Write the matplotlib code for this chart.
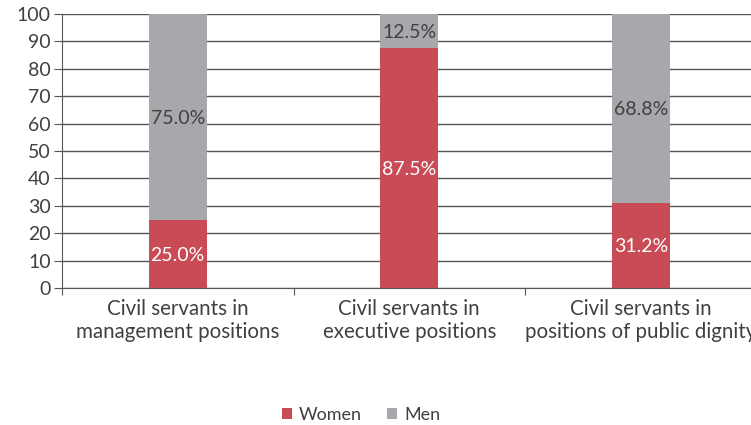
import matplotlib.pyplot as plt

categories = ["Civil servants in\nmanagement positions",
              "Civil servants in\nexecutive positions",
              "Civil servants in\npositions of public dignity"]
women = [25.0, 87.5, 31.2]
men = [75.0, 12.5, 68.8]
yticks = [0, 10, 20, 30, 40, 50, 60, 70, 80, 90, 100]

red = "#C94B55"
grey = "#A7A8AB"
txt = "#404040"

plt.rcParams['font.family'] = ['Lato', 'DejaVu Sans']

fig = plt.figure(figsize=(7.51, 4.25), dpi=100)
ax = fig.add_axes([62 / 751, 137 / 425, 694.5 / 751, 274 / 425])

x = range(len(categories))
ax.bar(x, women, width=0.25, color=red, zorder=3, label="Women")
ax.bar(x, men, width=0.25, bottom=women, color=grey, zorder=3, label="Men")

for i in x:
    ax.text(i, women[i] / 2, f"{women[i]:.1f}%", ha="center", va="center_baseline",
            color="white", fontsize=14, zorder=4)
    ax.text(i, women[i] + men[i] / 2, f"{men[i]:.1f}%", ha="center", va="center_baseline",
            color=txt, fontsize=14, zorder=4)

ax.set_xlim(-0.5, 2.5)
ax.set_ylim(0, 100)
ax.set_yticks(yticks)
ax.yaxis.grid(True, color="#555555", linewidth=1)
ax.set_axisbelow(True)

# category boundary ticks, labels in the middle
ax.set_xticks([-0.5, 0.5, 1.5, 2.5])
ax.set_xticklabels([])
ax.set_xticks(list(x), minor=True)
ax.set_xticklabels(categories, minor=True, fontsize=14.8, color=txt, linespacing=1.15)
ax.tick_params(axis="x", which="minor", length=0, pad=8)
ax.tick_params(axis="x", which="major", length=5, color="#555555")
ax.tick_params(axis="y", length=6, color="#555555", labelsize=14, labelcolor=txt, pad=2)

for s in ["top", "right"]:
    ax.spines[s].set_visible(False)
ax.spines["left"].set_color("#555555")
ax.spines["bottom"].set_color("#555555")

fig.legend(loc="center", bbox_to_anchor=(0.481, 0.024), ncol=2, frameon=False,
           fontsize=13, handlelength=0.55, handleheight=0.55, columnspacing=1.4,
           handletextpad=0.4, labelcolor=txt)

fig.savefig("out.png", dpi=100)
